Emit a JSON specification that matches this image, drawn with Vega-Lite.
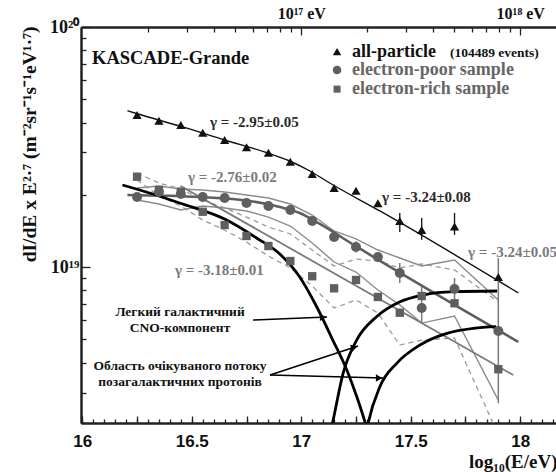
{
"$schema": "https://vega.github.io/schema/vega-lite/v6.json",
"width": 483, "height": 396,
"autosize": {"type": "none"},
"padding": {"left": 81, "top": 27, "right": 0, "bottom": 49},
"background": "white",
"config": {"view": {"stroke": null}, "axis": {"grid": false}},
"resolve": {"axis": {"x": "independent", "y": "independent"}},
"datasets": {
"pts": [
{"s":"all","x":16.25,"y":4.30e19},{"s":"all","x":16.35,"y":4.07e19},{"s":"all","x":16.45,"y":3.905e19},{"s":"all","x":16.55,"y":3.627e19},{"s":"all","x":16.65,"y":3.382e19},{"s":"all","x":16.75,"y":3.154e19},{"s":"all","x":16.85,"y":2.995e19},{"s":"all","x":16.95,"y":2.747e19},{"s":"all","x":17.05,"y":2.441e19},{"s":"all","x":17.15,"y":2.134e19},{"s":"all","x":17.25,"y":2.079e19},{"s":"all","x":17.35,"y":1.842e19},{"s":"all","x":17.45,"y":1.555e19},{"s":"all","x":17.55,"y":1.426e19},{"s":"all","x":17.7,"y":1.475e19},{"s":"all","x":17.9,"y":9.08e18},
{"s":"poor","x":16.25,"y":1.957e19},{"s":"poor","x":16.35,"y":2.054e19},{"s":"poor","x":16.45,"y":2.015e19},{"s":"poor","x":16.55,"y":1.957e19},{"s":"poor","x":16.65,"y":1.938e19},{"s":"poor","x":16.75,"y":1.848e19},{"s":"poor","x":16.85,"y":1.796e19},{"s":"poor","x":16.95,"y":1.728e19},{"s":"poor","x":17.05,"y":1.555e19},{"s":"poor","x":17.15,"y":1.334e19},{"s":"poor","x":17.25,"y":1.212e19},{"s":"poor","x":17.35,"y":1.101e19},{"s":"poor","x":17.45,"y":9.44e18},{"s":"poor","x":17.55,"y":6.75e18},{"s":"poor","x":17.7,"y":8.10e18},{"s":"poor","x":17.9,"y":5.41e18},
{"s":"rich","x":16.25,"y":2.378e19},{"s":"rich","x":16.35,"y":2.094e19},{"s":"rich","x":16.45,"y":2.060e19},{"s":"rich","x":16.55,"y":1.700e19},{"s":"rich","x":16.65,"y":1.496e19},{"s":"rich","x":16.75,"y":1.347e19},{"s":"rich","x":16.85,"y":1.223e19},{"s":"rich","x":16.95,"y":1.059e19},{"s":"rich","x":17.05,"y":9.15e18},{"s":"rich","x":17.15,"y":8.15e18},{"s":"rich","x":17.25,"y":8.83e18},{"s":"rich","x":17.35,"y":7.50e18},{"s":"rich","x":17.45,"y":6.45e18},{"s":"rich","x":17.55,"y":7.57e18},{"s":"rich","x":17.7,"y":7.06e18},{"s":"rich","x":17.9,"y":3.75e18}
],
"err": [
{"s":"all","x":17.45,"y":1.40e19,"hi":1.68e19},{"s":"all","x":17.55,"y":1.30e19,"hi":1.60e19},{"s":"all","x":17.7,"y":1.36e19,"hi":1.68e19},
{"s":"gray","x":17.9,"y":2.71e18,"hi":1.09e19},{"s":"gray","x":17.25,"y":1.15e19,"hi":1.28e19},{"s":"gray","x":17.45,"y":8.58e18,"hi":1.04e19},{"s":"gray","x":17.55,"y":5.85e18,"hi":8.33e18},{"s":"gray","x":17.7,"y":7.15e18,"hi":9.0e18}
],
"lines": [
{"id":"allfit","x":16.206,"y":4.48e19},{"id":"allfit","x":16.247,"y":4.36e19},{"id":"allfit","x":16.444,"y":3.87e19},{"id":"allfit","x":16.65,"y":3.382e19},{"id":"allfit","x":16.847,"y":2.985e19},{"id":"allfit","x":16.947,"y":2.765e19},{"id":"allfit","x":17.048,"y":2.488e19},{"id":"allfit","x":17.13,"y":2.239e19},{"id":"allfit","x":17.359,"y":1.712e19},{"id":"allfit","x":17.991,"y":7.80e18},
{"id":"poorfit","x":16.206,"y":1.995e19},{"id":"poorfit","x":16.535,"y":1.957e19},{"id":"poorfit","x":16.764,"y":1.884e19},{"id":"poorfit","x":16.902,"y":1.778e19},{"id":"poorfit","x":16.993,"y":1.679e19},{"id":"poorfit","x":17.085,"y":1.511e19},{"id":"poorfit","x":17.253,"y":1.215e19},{"id":"poorfit","x":17.991,"y":4.88e18},
{"id":"richfit","x":16.4485,"y":2.175e19},{"id":"richfit","x":17.968,"y":3.548e18},
{"id":"poorhi","x":16.25,"y":2.134e19},{"id":"poorhi","x":16.35,"y":2.175e19},{"id":"poorhi","x":16.45,"y":2.113e19},{"id":"poorhi","x":16.55,"y":2.094e19},{"id":"poorhi","x":16.65,"y":2.054e19},{"id":"poorhi","x":16.75,"y":1.995e19},{"id":"poorhi","x":16.85,"y":1.938e19},{"id":"poorhi","x":16.95,"y":1.830e19},{"id":"poorhi","x":17.05,"y":1.647e19},{"id":"poorhi","x":17.15,"y":1.413e19},{"id":"poorhi","x":17.25,"y":1.309e19},{"id":"poorhi","x":17.35,"y":1.177e19},{"id":"poorhi","x":17.45,"y":1.090e19},{"id":"poorhi","x":17.55,"y":1.010e19},{"id":"poorhi","x":17.7,"y":1.069e19},{"id":"poorhi","x":17.9,"y":7.29e18},
{"id":"poorlo","x":16.25,"y":1.902e19},{"id":"poorlo","x":16.35,"y":1.830e19},{"id":"poorlo","x":16.45,"y":1.728e19},{"id":"poorlo","x":16.55,"y":1.796e19},{"id":"poorlo","x":16.65,"y":1.762e19},{"id":"poorlo","x":16.75,"y":1.712e19},{"id":"poorlo","x":16.85,"y":1.615e19},{"id":"poorlo","x":16.95,"y":1.482e19},{"id":"poorlo","x":17.05,"y":1.259e19},{"id":"poorlo","x":17.15,"y":1.049e19},{"id":"poorlo","x":17.25,"y":9.53e18},{"id":"poorlo","x":17.35,"y":8.02e18},{"id":"poorlo","x":17.45,"y":6.95e18},{"id":"poorlo","x":17.55,"y":5.84e18},{"id":"poorlo","x":17.7,"y":6.25e18},{"id":"poorlo","x":17.9,"y":2.79e18},
{"id":"richhi","x":16.25,"y":2.464e19},{"id":"richhi","x":16.35,"y":2.239e19},{"id":"richhi","x":16.45,"y":2.113e19},{"id":"richhi","x":16.55,"y":1.902e19},{"id":"richhi","x":16.65,"y":1.762e19},{"id":"richhi","x":16.75,"y":1.615e19},{"id":"richhi","x":16.85,"y":1.468e19},{"id":"richhi","x":16.95,"y":1.373e19},{"id":"richhi","x":17.05,"y":1.177e19},{"id":"richhi","x":17.15,"y":1.010e19},{"id":"richhi","x":17.25,"y":1.080e19},{"id":"richhi","x":17.35,"y":1.059e19},{"id":"richhi","x":17.45,"y":9.91e18},{"id":"richhi","x":17.55,"y":1.029e19},{"id":"richhi","x":17.7,"y":9.72e18},{"id":"richhi","x":17.9,"y":7.15e18},
{"id":"richlo","x":16.25,"y":2.304e19},{"id":"richlo","x":16.35,"y":1.976e19},{"id":"richlo","x":16.45,"y":1.796e19},{"id":"richlo","x":16.55,"y":1.570e19},{"id":"richlo","x":16.65,"y":1.426e19},{"id":"richlo","x":16.75,"y":1.271e19},{"id":"richlo","x":16.85,"y":1.111e19},{"id":"richlo","x":16.95,"y":9.91e18},{"id":"richlo","x":17.05,"y":8.33e18},{"id":"richlo","x":17.15,"y":6.75e18},{"id":"richlo","x":17.25,"y":7.29e18},{"id":"richlo","x":17.35,"y":6.43e18},{"id":"richlo","x":17.45,"y":4.73e18},{"id":"richlo","x":17.55,"y":4.96e18},{"id":"richlo","x":17.7,"y":5.06e18},{"id":"richlo","x":17.9,"y":2.0e18},
{"id":"cno","x":16.183,"y":2.196e19},{"id":"cno","x":16.307,"y":2.034e19},{"id":"cno","x":16.444,"y":1.848e19},{"id":"cno","x":16.659,"y":1.570e19},{"id":"cno","x":16.796,"y":1.321e19},{"id":"cno","x":16.902,"y":1.133e19},{"id":"cno","x":16.993,"y":9.085e18},{"id":"cno","x":17.071,"y":6.813e18},{"id":"cno","x":17.144,"y":4.963e18},{"id":"cno","x":17.208,"y":3.722e18},{"id":"cno","x":17.254,"y":2.873e18},{"id":"cno","x":17.291,"y":2.260e18},{"id":"cno","x":17.314,"y":1.901e18},
{"id":"p1","x":17.130,"y":1.995e18},{"id":"p1","x":17.144,"y":2.266e18},{"id":"p1","x":17.191,"y":3.607e18},{"id":"p1","x":17.253,"y":4.963e18},{"id":"p1","x":17.344,"y":6.207e18},{"id":"p1","x":17.451,"y":7.169e18},{"id":"p1","x":17.557,"y":7.644e18},{"id":"p1","x":17.695,"y":7.889e18},{"id":"p1","x":17.895,"y":7.943e18},
{"id":"p2","x":17.295,"y":1.995e18},{"id":"p2","x":17.306,"y":2.245e18},{"id":"p2","x":17.359,"y":3.172e18},{"id":"p2","x":17.436,"y":3.969e18},{"id":"p2","x":17.542,"y":4.732e18},{"id":"p2","x":17.665,"y":5.293e18},{"id":"p2","x":17.786,"y":5.554e18},{"id":"p2","x":17.890,"y":5.640e18},
{"id":"a1","x":16.7798,"y":6.01e18},{"id":"a1","x":17.1179,"y":6.19e18},
{"id":"a2","x":16.8575,"y":3.548e18},{"id":"a2","x":17.2595,"y":4.687e18},
{"id":"a3","x":16.8575,"y":3.548e18},{"id":"a3","x":17.3737,"y":3.447e18}
],
"heads": [
{"id":"a1","x":17.0996,"y":6.17e18},{"id":"a2","x":17.2421,"y":4.63e18},{"id":"a3","x":17.3554,"y":3.45e18}
],
"legend": [
{"k":"tri","x":17.1635,"y":7.89e19},{"k":"cir","x":17.1635,"y":6.62e19},{"k":"sq","x":17.1635,"y":5.51e19}
],
"labels": [
{"g":"kg","t":"KASCADE-Grande","x":16.0443,"y":7.43e19},
{"g":"l1","t":"all-particle","x":17.232,"y":7.89e19},
{"g":"l1s","t":"(104489 events)","x":17.679,"y":7.8e19},
{"g":"l2","t":"electron-poor sample","x":17.232,"y":6.62e19},
{"g":"l2","t":"electron-rich sample","x":17.232,"y":5.51e19},
{"g":"gk","t":"γ = -2.95±0.05","x":16.5834,"y":4.02e19},
{"g":"gg","t":"γ = -2.76±0.02","x":16.4829,"y":2.37e19},
{"g":"gk","t":"γ = -3.24±0.08","x":17.3691,"y":1.957e19},
{"g":"gg","t":"γ = -3.24±0.05","x":17.762,"y":1.155e19},
{"g":"gg","t":"γ = -3.18±0.01","x":16.4235,"y":9.72e18},
{"g":"ua","t":"Легкий галактичний","x":16.4463,"y":6.49e18},
{"g":"ua","t":"CNO-компонент","x":16.4463,"y":5.57e18},
{"g":"ua","t":"Область очікуваного потоку","x":16.4463,"y":3.87e18},
{"g":"ua","t":"позагалактичних протонів","x":16.4463,"y":3.32e18}
]
},
"encoding": {
"x": {"field":"x","type":"quantitative","scale":{"domain":[15.994,18.2],"nice":false,"zero":false},"axis":null},
"y": {"field":"y","type":"quantitative","scale":{"type":"log","domain":[2.239e18,1e20],"nice":false},"axis":null}
},
"layer": [
{"data":{"name":"lines"},"transform":[{"filter":"datum.id=='poorhi' || datum.id=='poorlo'"}],
 "mark":{"type":"line","color":"#8c8c8c","strokeWidth":1.4,"clip":true},"encoding":{"detail":{"field":"id"}}},
{"data":{"name":"lines"},"transform":[{"filter":"datum.id=='richhi' || datum.id=='richlo'"}],
 "mark":{"type":"line","color":"#9a9a9a","strokeWidth":1.3,"strokeDash":[5,4],"clip":true},"encoding":{"detail":{"field":"id"}}},
{"data":{"name":"lines"},"transform":[{"filter":"datum.id=='richfit'"}],
 "mark":{"type":"line","color":"#7a7a7a","strokeWidth":1.8,"clip":true},"encoding":{}},
{"data":{"name":"lines"},"transform":[{"filter":"datum.id=='poorfit'"}],
 "mark":{"type":"line","color":"#5e5e5e","strokeWidth":2.6,"interpolate":"monotone","clip":true},"encoding":{}},
{"data":{"name":"lines"},"transform":[{"filter":"datum.id=='allfit'"}],
 "mark":{"type":"line","color":"#111111","strokeWidth":1.4,"interpolate":"monotone","clip":true},"encoding":{}},
{"data":{"name":"lines"},"transform":[{"filter":"datum.id=='cno' || datum.id=='p1' || datum.id=='p2'"}],
 "mark":{"type":"line","color":"#000000","strokeWidth":2.8,"interpolate":"monotone","clip":true},"encoding":{"detail":{"field":"id"}}},
{"data":{"name":"lines"},"transform":[{"filter":"datum.id=='a1' || datum.id=='a2' || datum.id=='a3'"}],
 "mark":{"type":"line","color":"#000000","strokeWidth":1.5},"encoding":{"detail":{"field":"id"}}},
{"data":{"name":"heads"},"transform":[{"filter":"datum.id!='a2'"}],
 "mark":{"type":"point","shape":"triangle-right","filled":true,"color":"#000000","size":55,"opacity":1}},
{"data":{"name":"heads"},"transform":[{"filter":"datum.id=='a2'"}],
 "mark":{"type":"point","shape":"triangle-right","filled":true,"color":"#000000","size":55,"angle":-18,"opacity":1}},
{"data":{"name":"err"},"transform":[{"filter":"datum.s=='gray'"}],
 "mark":{"type":"rule","color":"#7a7a7a","strokeWidth":1.5,"clip":true},
 "encoding":{"y2":{"field":"hi"}}},
{"data":{"name":"err"},"transform":[{"filter":"datum.s=='all'"}],
 "mark":{"type":"rule","color":"#111111","strokeWidth":1.3},
 "encoding":{"y2":{"field":"hi"}}},
{"data":{"name":"pts"},"transform":[{"filter":"datum.s=='rich'"}],
 "mark":{"type":"point","shape":"square","filled":true,"color":"#5f5f5f","size":70,"opacity":1},
 "encoding":{
  "x":{"field":"x","type":"quantitative","scale":{"domain":[15.994,18.2],"nice":false,"zero":false},
   "axis":{"orient":"bottom","title":null,"labels":false,
     "values":[16,16.05,16.1,16.15,16.2,16.25,16.3,16.35,16.4,16.45,16.5,16.55,16.6,16.65,16.7,16.75,16.8,16.85,16.9,16.95,17,17.05,17.1,17.15,17.2,17.25,17.3,17.35,17.4,17.45,17.5,17.55,17.6,17.65,17.7,17.75,17.8,17.85,17.9,17.95,18,18.05,18.1,18.15],
     "tickSize":-4,"tickColor":"#222222","tickWidth":1.3,"domainColor":"#222222","domainWidth":2}},
  "y":{"field":"y","type":"quantitative","scale":{"type":"log","domain":[2.239e18,1e20],"nice":false},
   "axis":{"orient":"left","title":null,"labels":false,
     "values":[3e18,4e18,5e18,6e18,7e18,8e18,9e18,2e19,3e19,4e19,5e19,6e19,7e19,8e19,9e19],
     "tickSize":-5,"tickColor":"#222222","tickWidth":1.3,"domainColor":"#222222","domainWidth":2}}}},
{"data":{"name":"pts"},"transform":[{"filter":"datum.s=='poor'"}],
 "mark":{"type":"point","shape":"circle","filled":true,"color":"#5f5f5f","size":100,"opacity":1},
 "encoding":{"x":{"field":"x","type":"quantitative","scale":{"domain":[15.994,18.2],"nice":false,"zero":false},
   "axis":{"orient":"top","title":null,"labels":false,
     "values":[16.30103,16.47712,16.60206,16.69897,16.77815,16.8451,16.90309,16.95424,17.30103,17.47712,17.60206,17.69897,17.77815,17.8451,17.90309,17.95424],
     "tickSize":-5,"tickColor":"#222222","tickWidth":1.3,"domainColor":"#222222","domainWidth":2}}}},
{"data":{"name":"pts"},"transform":[{"filter":"datum.s=='all'"}],
 "mark":{"type":"point","shape":"triangle-up","filled":true,"color":"#111111","size":85,"opacity":1},
 "encoding":{
  "x":{"field":"x","type":"quantitative","scale":{"domain":[15.994,18.2],"nice":false,"zero":false},
   "axis":{"orient":"bottom",
     "values":[16,16.25,16.5,16.75,17,17.25,17.5,17.75,18],
     "labelExpr":"abs(datum.value*2-round(datum.value*2))<0.01 ? (abs(datum.value-round(datum.value))<0.01 ? format(round(datum.value),'d') : format(datum.value,'.1f')) : ''",
     "tickSize":-7,"tickColor":"#222222","tickWidth":1.3,"domainColor":"#222222","domainWidth":2,
     "labelFont":"Liberation Sans","labelFontWeight":"bold","labelFontSize":17,"labelColor":"#111111",
     "labelPadding":17,"labelOverlap":false,"labelFlush":false,"labelBound":false,
     "title":"log₁₀(E/eV)","titleFont":"Liberation Serif","titleFontWeight":"bold","titleFontSize":19,"titleColor":"#111111",
     "titleX":476,"titleY":38,"titleAlign":"right","titleBaseline":"middle","titleAnchor":"end"}},
  "y":{"field":"y","type":"quantitative","scale":{"type":"log","domain":[2.239e18,1e20],"nice":false},
   "axis":{"orient":"left",
     "values":[1e19,1e20],
     "labelExpr":"datum.value==1e19 ? '10¹⁹' : '10²⁰'",
     "tickSize":-9,"tickColor":"#222222","tickWidth":1.3,"domainColor":"#222222","domainWidth":2,
     "labelFont":"Liberation Serif","labelFontWeight":"bold","labelFontSize":18,"labelColor":"#111111",
     "labelPadding":11,"labelOverlap":false,"labelFlush":false,"labelBound":false,
     "title":"dI/dE x  E²·⁷ (m⁻²sr⁻¹s⁻¹eV¹·⁷)","titleFont":"Liberation Serif","titleFontWeight":"bold","titleFontSize":19.5,"titleColor":"#111111",
     "titleAngle":270,"titleX":-46,"titleY":-1,"titleAlign":"right","titleBaseline":"alphabetic","titleAnchor":"end"}}}},
{"data":{"name":"legend"},"transform":[{"filter":"datum.k=='tri'"}],
 "mark":{"type":"point","shape":"triangle-up","filled":true,"color":"#111111","size":70,"opacity":1},
 "encoding":{"x":{"field":"x","type":"quantitative","scale":{"domain":[15.994,18.2],"nice":false,"zero":false},
   "axis":{"orient":"top","title":null,
     "values":[17,18],
     "labelExpr":"datum.value==17 ? '10¹⁷ eV' : '10¹⁸ eV'",
     "tickSize":-8,"tickColor":"#222222","tickWidth":1.3,"domainColor":"#222222","domainWidth":2,
     "labelFont":"Liberation Serif","labelFontWeight":"bold","labelFontSize":16,"labelColor":"#111111",
     "labelPadding":14,"labelOverlap":false,"labelFlush":false,"labelBound":false}}}},
{"data":{"name":"legend"},"transform":[{"filter":"datum.k=='cir'"}],
 "mark":{"type":"point","shape":"circle","filled":true,"color":"#5f5f5f","size":75,"opacity":1}},
{"data":{"name":"legend"},"transform":[{"filter":"datum.k=='sq'"}],
 "mark":{"type":"point","shape":"square","filled":true,"color":"#5f5f5f","size":50,"opacity":1}},
{"data":{"name":"labels"},"transform":[{"filter":"datum.g=='kg'"}],
 "mark":{"type":"text","font":"Liberation Serif","fontWeight":"bold","fontSize":18.5,"color":"#111111","align":"left","baseline":"middle"},
 "encoding":{"text":{"field":"t"}}},
{"data":{"name":"labels"},"transform":[{"filter":"datum.g=='l1'"}],
 "mark":{"type":"text","font":"Liberation Serif","fontWeight":"bold","fontSize":18,"color":"#111111","align":"left","baseline":"middle"},
 "encoding":{"text":{"field":"t"}}},
{"data":{"name":"labels"},"transform":[{"filter":"datum.g=='l1s'"}],
 "mark":{"type":"text","font":"Liberation Serif","fontWeight":"bold","fontSize":13.5,"color":"#111111","align":"left","baseline":"middle"},
 "encoding":{"text":{"field":"t"}}},
{"data":{"name":"labels"},"transform":[{"filter":"datum.g=='l2'"}],
 "mark":{"type":"text","font":"Liberation Serif","fontWeight":"bold","fontSize":18,"color":"#666666","align":"left","baseline":"middle"},
 "encoding":{"text":{"field":"t"}}},
{"data":{"name":"labels"},"transform":[{"filter":"datum.g=='gk'"}],
 "mark":{"type":"text","font":"Liberation Serif","fontWeight":"bold","fontSize":15,"color":"#2a2a2a","align":"left","baseline":"middle"},
 "encoding":{"text":{"field":"t"}}},
{"data":{"name":"labels"},"transform":[{"filter":"datum.g=='gg'"}],
 "mark":{"type":"text","font":"Liberation Serif","fontWeight":"bold","fontSize":15,"color":"#7a7a7a","align":"left","baseline":"middle"},
 "encoding":{"text":{"field":"t"}}},
{"data":{"name":"labels"},"transform":[{"filter":"datum.g=='ua'"}],
 "mark":{"type":"text","font":"Liberation Serif","fontWeight":"bold","fontSize":13.5,"color":"#111111","align":"center","baseline":"middle"},
 "encoding":{"text":{"field":"t"}}}
]
}
